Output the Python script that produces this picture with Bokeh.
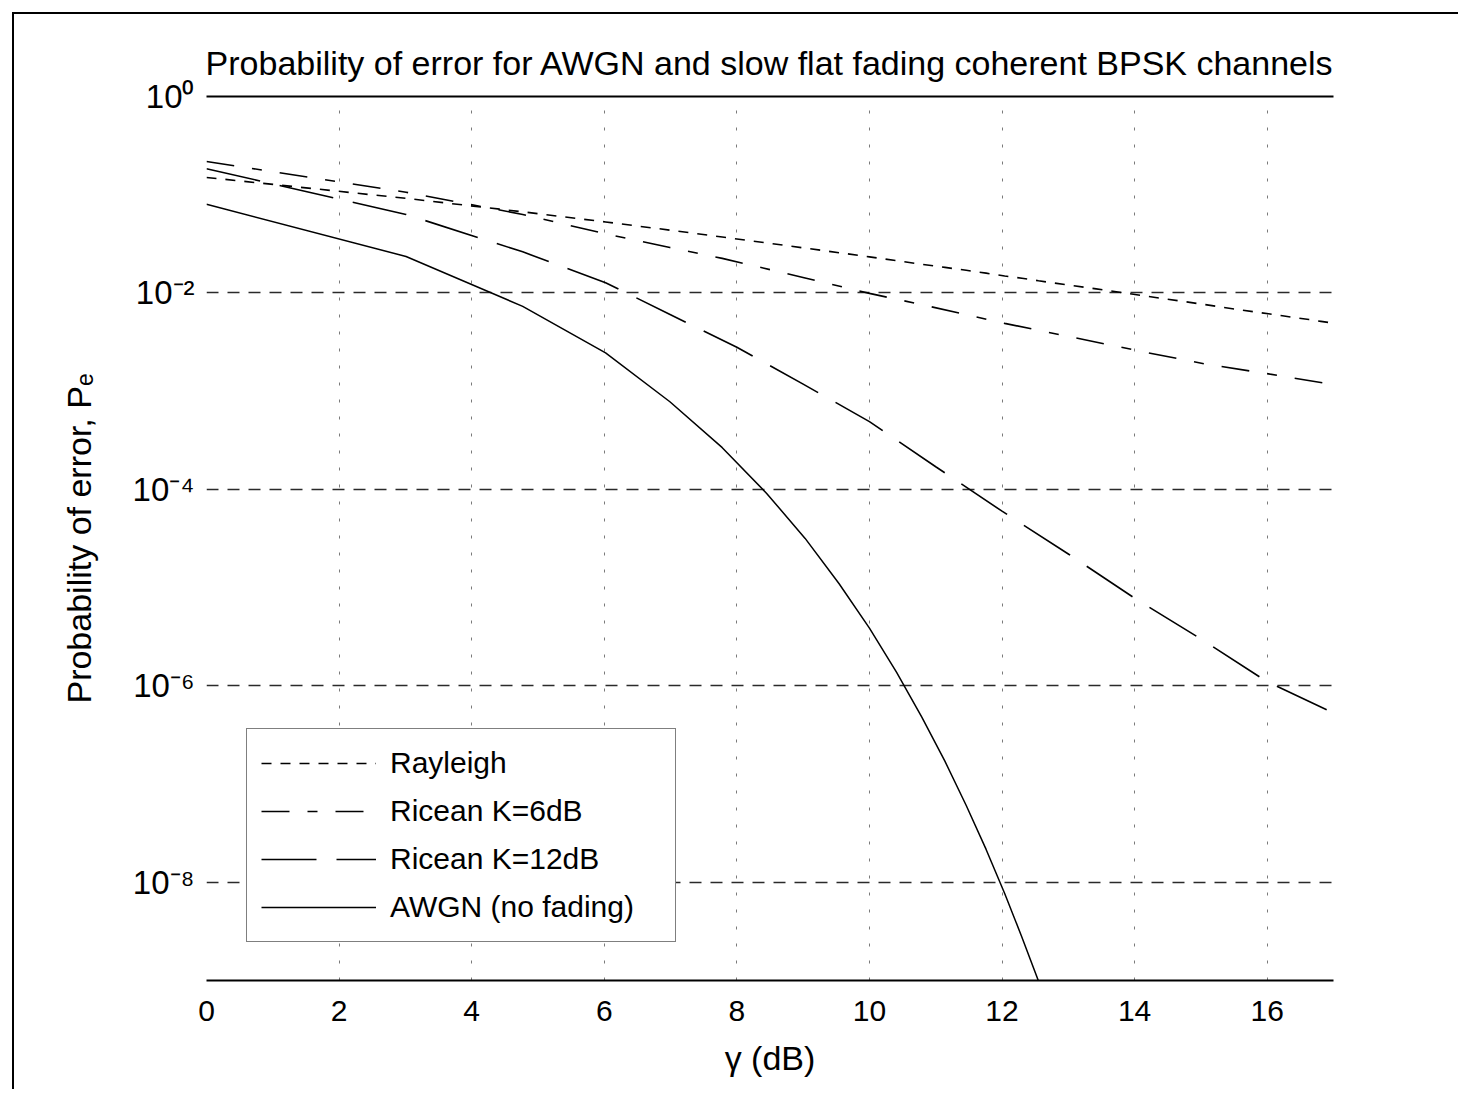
import math
from bokeh.plotting import figure
from bokeh.models import Range1d, FixedTicker, LinearAxis, CustomJSTickFormatter
from bokeh.layouts import column
from bokeh.embed import file_html
from bokeh.resources import INLINE

# ---- data ----
awgn_db = [0, 3.01, 4.77, 6.02, 6.99, 7.78, 8.45, 9.03, 9.54, 10.0, 10.41,
           10.79, 11.14, 11.46, 11.76, 12.04, 12.30, 12.55]
awgn_pe = [0.080, 0.0235, 0.0073, 0.00245, 7.8e-4, 2.66e-4, 9.1e-5, 3.17e-5,
           1.1e-5, 3.87e-6, 1.37e-6, 4.8e-7, 1.7e-7, 6.05e-8, 2.16e-8, 7.7e-9,
           2.76e-9, 9.87e-10]

ray_db = [0, 3.01, 4.77, 6.02, 6.99, 7.78, 8.45, 9.03, 9.54, 10.0, 10.41,
          10.79, 11.14, 11.46, 11.76, 12.04, 12.30, 12.55, 13.01, 13.42,
          13.80, 14.15, 14.47, 14.77, 15.05, 15.31, 15.56, 15.80, 16.02,
          16.23, 16.43, 16.63, 16.81, 16.99]
ray_pe = [0.150, 0.0918, 0.0670, 0.0528, 0.0436, 0.0371, 0.0323, 0.0286,
          0.0257, 0.0233, 0.0213, 0.0196, 0.0182, 0.0170, 0.0159, 0.0149,
          0.0141, 0.0133, 0.0120, 0.0110, 0.0101, 0.00934, 0.00868, 0.00813,
          0.00763, 0.00718, 0.00678, 0.00643, 0.00613, 0.00585, 0.00559,
          0.00536, 0.00514, 0.00493]

k6_db = [0, 3.01, 4.77, 6.02, 6.99, 7.78, 9.03, 10.0, 10.79, 12.04, 13.01,
         14.15, 15.05, 16.02, 16.99]
k6_pe = [0.218, 0.106, 0.063, 0.040, 0.029, 0.0225, 0.0142, 0.0099, 0.0076,
         0.0049, 0.0036, 0.0025, 0.0019, 0.0015, 0.00117]

k12_db = [0, 3.01, 4.77, 6.02, 7.0, 8.0, 9.0, 10.0, 11.0, 12.0, 13.0, 14.0,
          15.0, 16.0, 17.0]
k12_pe = [0.184, 0.063, 0.0262, 0.0127, 0.0060, 0.0028, 0.00118, 4.9e-4,
          1.7e-4, 6.0e-5, 2.2e-5, 7.8e-6, 3.0e-6, 1.1e-6, 5.3e-7]

x_ticks = [0, 2, 4, 6, 8, 10, 12, 14, 16]
x_grid = [0, 2, 4, 6, 8, 10, 12, 14, 16, 17]
y_ticks = [1.0, 1e-2, 1e-4, 1e-6, 1e-8]

title_text = "Probability of error for AWGN and slow flat fading coherent BPSK channels"
x_label = "γ (dB)"
y_label = "Probability of error, P\u2091"
FONT = "Liberation Sans"

# ---- figure ----
p = figure(width=1444, height=1075, y_axis_type="log",
           x_range=Range1d(0, 17), y_range=Range1d(1e-9, 1),
           output_backend="svg", toolbar_location=None,
           min_border_left=192, min_border_right=125,
           min_border_top=82, min_border_bottom=109)
p.outline_line_color = None
p.background_fill_color = "white"
p.border_fill_color = "white"

# title
p.title.text = title_text
p.title.align = "center"
p.title.text_font = FONT
p.title.text_font_size = "34px"
p.title.text_font_style = "normal"
p.title.text_color = "black"
p.title.standoff = 30

# grids
p.ygrid.ticker = FixedTicker(ticks=y_ticks)
p.ygrid.grid_line_color = "#2a2a2a"
p.ygrid.grid_line_width = 1.5
p.ygrid.grid_line_dash = "12 9"
p.xgrid.ticker = FixedTicker(ticks=x_grid)
p.xgrid.grid_line_color = "#7a7a7a"
p.xgrid.grid_line_width = 1
p.xgrid.grid_line_dash = "3 14"

# y axis: 10^k labels with superscripts
ya = p.yaxis[0]
ya.ticker = FixedTicker(ticks=y_ticks)
ya.formatter = CustomJSTickFormatter(code="""
const sup = {"0":"\\u2070","1":"\\u00b9","2":"\\u00b2","3":"\\u00b3","4":"\\u2074",
             "5":"\\u2075","6":"\\u2076","7":"\\u2077","8":"\\u2078","9":"\\u2079",
             "-":"\\u207b"};
const e = Math.round(Math.log10(tick));
return "10" + String(e).split("").map(c => sup[c]).join("");
""")
ya.axis_line_color = None
ya.major_tick_line_color = None
ya.minor_tick_line_color = None
ya.major_tick_out = 0
ya.major_label_standoff = 12
ya.major_label_text_font = FONT
ya.major_label_text_font_size = "33px"
ya.major_label_text_color = "black"
ya.axis_label = y_label
ya.axis_label_text_font = FONT
ya.axis_label_text_font_size = "34px"
ya.axis_label_text_font_style = "normal"
ya.axis_label_text_color = "black"
ya.axis_label_standoff = 32

# x axis
xa = p.xaxis[0]
xa.ticker = FixedTicker(ticks=x_ticks)
xa.axis_line_color = "black"
xa.axis_line_width = 2
xa.major_tick_line_color = None
xa.minor_tick_line_color = None
xa.major_tick_out = 0
xa.major_label_standoff = 20
xa.major_label_text_font = FONT
xa.major_label_text_font_size = "30px"
xa.major_label_text_color = "black"
xa.axis_label = x_label
xa.axis_label_text_font = FONT
xa.axis_label_text_font_size = "34px"
xa.axis_label_text_font_style = "normal"
xa.axis_label_text_color = "black"
xa.axis_label_standoff = 15

top = LinearAxis(ticker=FixedTicker(ticks=[]), axis_line_color="black",
                 axis_line_width=2, major_tick_line_color=None,
                 minor_tick_line_color=None, major_label_text_font_size="1px")
p.add_layout(top, "above")

# curves
p.line(ray_db, ray_pe, line_color="black", line_width=1.6,
       line_dash="10 9", legend_label="Rayleigh")
p.line(k6_db, k6_pe, line_color="black", line_width=1.6,
       line_dash="28 18 10 18", legend_label="Ricean K=6dB")
p.line(k12_db, k12_pe, line_color="black", line_width=1.6,
       line_dash="55 20", legend_label="Ricean K=12dB")
p.line(awgn_db, awgn_pe, line_color="black", line_width=1.5,
       legend_label="AWGN (no fading)")

lg = p.legend[0]
lg.location = (40, 38)
lg.margin = 0
lg.padding = 14
lg.spacing = 8
lg.glyph_width = 115
lg.glyph_height = 40
lg.label_height = 40
lg.label_width = 271
lg.label_standoff = 14
lg.label_text_font = FONT
lg.label_text_font_size = "30px"
lg.label_text_color = "black"
lg.border_line_color = "black"
lg.border_line_width = 1.5
lg.background_fill_color = "white"
lg.background_fill_alpha = 1.0

layout = column(p, margin=(12, 0, 0, 12),
                styles={"border-left": "2px solid black",
                        "border-top": "2px solid black"})

open("out.html", "w").write(file_html(layout, INLINE))
